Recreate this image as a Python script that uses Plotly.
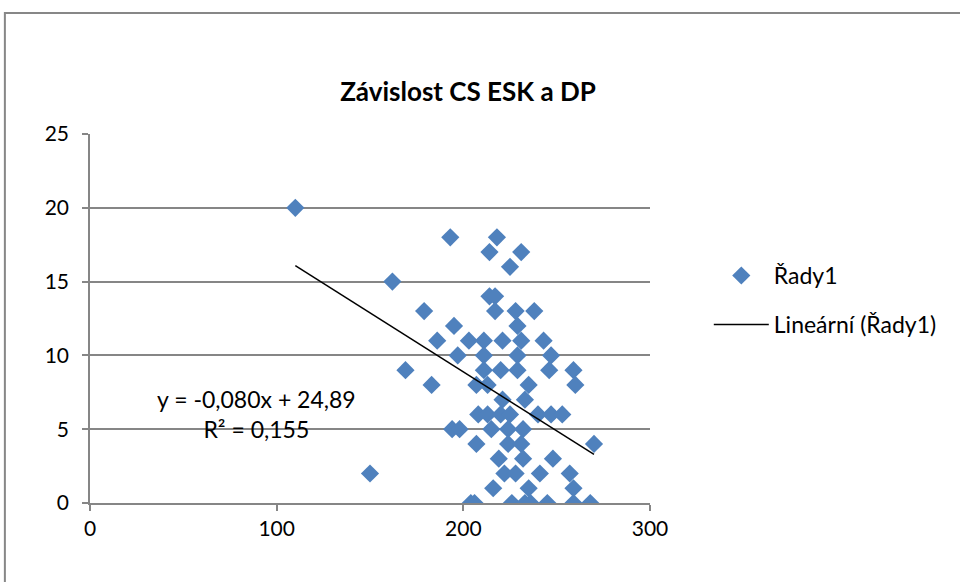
import plotly.graph_objects as go
import numpy as np

# Data
cs_esk = [110, 162, 193, 218, 214, 231, 225, 179, 214, 217, 217, 228, 238, 195, 229,
          186, 203, 211, 221, 231, 243, 197, 211, 229, 247, 169, 211, 220, 229, 246, 259,
          183, 207, 213, 235, 260, 221, 233, 208, 213, 220, 225, 240, 247, 253,
          194, 198, 215, 224, 232, 270, 207, 224, 231, 150, 219, 232, 248,
          222, 228, 241, 257, 216, 235, 259, 204, 206, 226, 233, 236, 245, 259, 268]
dp = [20, 15, 18, 18, 17, 17, 16, 13, 14, 14, 13, 13, 13, 12, 12,
      11, 11, 11, 11, 11, 11, 10, 10, 10, 10, 9, 9, 9, 9, 9, 9,
      8, 8, 8, 8, 8, 7, 7, 6, 6, 6, 6, 6, 6, 6,
      5, 5, 5, 5, 5, 4, 4, 4, 4, 2, 3, 3, 3,
      2, 2, 2, 2, 1, 1, 1, 0, 0, 0, 0, 0, 0, 0, 0]

slope = -0.080
intercept = 24.89
r_squared = 0.155
title_text = "Závislost CS ESK a DP"
series_name = "Řady1"
trend_name = "Lineární (Řady1)"
x_ticks = [0, 100, 200, 300]
y_ticks = [0, 5, 10, 15, 20, 25]

FONT = "Lato, Open Sans, sans-serif"

x_min, x_max = min(cs_esk), max(cs_esk)
trend_x = [x_min, x_max]
trend_y = [slope * v + intercept for v in trend_x]

fig = go.Figure()
fig.add_trace(go.Scatter(
    x=cs_esk, y=dp, mode="markers", name=series_name, legendgroup="a",
    marker=dict(symbol="diamond", size=14, color="#4F81BD", line=dict(width=0)),
))
fig.add_trace(go.Scatter(
    x=trend_x, y=trend_y, mode="lines", name=trend_name, legendgroup="b",
    line=dict(color="black", width=1.5),
))

fig.add_annotation(
    x=89, y=6, xref="x", yref="y",
    text=f"y = {slope:.3f}x + {intercept:.2f}".replace(".", ",") + "<br>" +
         f"R² = {r_squared:.3f}".replace(".", ","),
    showarrow=False, align="center",
    font=dict(family=FONT, size=23, color="black"),
)

# outer chart frame
fig.add_shape(type="rect", xref="paper", yref="paper",
              x0=-0.152, x1=1.56, y0=-0.3, y1=1.328,
              line=dict(color="#878787", width=2), fillcolor="rgba(0,0,0,0)",
              layer="below")

fig.update_layout(
    width=960, height=582,
    margin=dict(l=90, r=310, t=134, b=79),
    paper_bgcolor="white", plot_bgcolor="white",
    title=dict(text=f"<b>{title_text}</b>", x=(468) / 960, xanchor="center",
               y=1 - 92 / 582, yanchor="middle",
               font=dict(family=FONT, size=26, color="black")),
    font=dict(family=FONT, size=21, color="black"),
    showlegend=True,
    legend=dict(x=1.105, y=0.55, xanchor="left", yanchor="middle",
                font=dict(family=FONT, size=23, color="black"),
                bgcolor="rgba(0,0,0,0)", tracegroupgap=16, itemwidth=55),
    xaxis=dict(range=[0, 300], tickvals=x_ticks, showgrid=False, zeroline=False,
               showline=True, linecolor="#868686", linewidth=1.5,
               ticks="outside", ticklen=6, tickcolor="#868686", tickwidth=1.5,
               tickfont=dict(family=FONT, size=21, color="black")),
    yaxis=dict(range=[0, 25], tickvals=y_ticks, showgrid=True, gridcolor="#868686",
               gridwidth=1.5, zeroline=False,
               showline=True, linecolor="#868686", linewidth=1.5,
               ticks="outside", ticklen=6, tickcolor="#868686", tickwidth=1.5,
               ticklabelstandoff=9,
               tickfont=dict(family=FONT, size=21, color="black")),
)

fig.write_html("out.html")
